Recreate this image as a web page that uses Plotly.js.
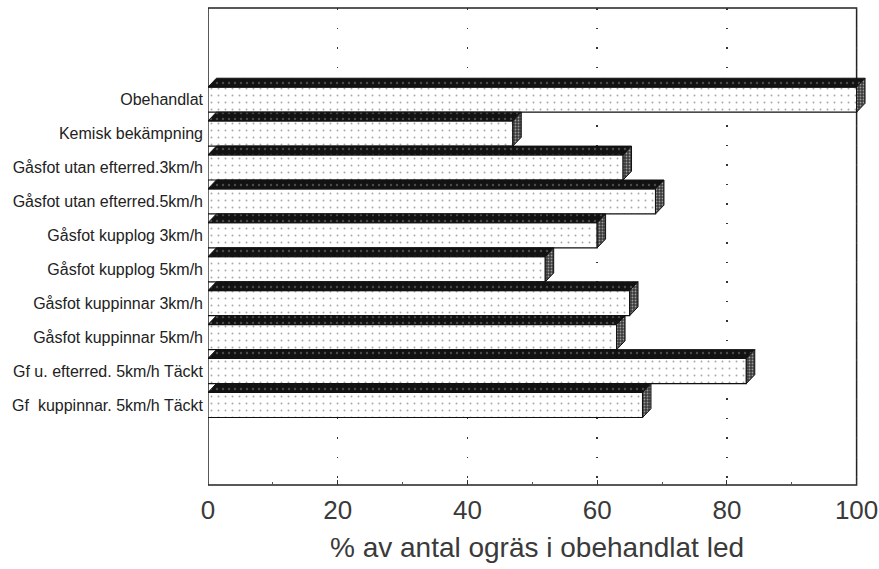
<!DOCTYPE html>
<html>
<head>
<meta charset="utf-8">
<script src="https://cdn.plot.ly/plotly-3.0.1.min.js"></script>
<style>
  html, body { margin: 0; padding: 0; background: #ffffff; }
  #chart { width: 879px; height: 569px; }
</style>
</head>
<body>
<div id="chart"></div>
<script>
// Treatments (top to bottom) and weed counts as % of the untreated plot
const categories = [
  "Obehandlat",
  "Kemisk bekämpning",
  "Gåsfot utan efterred.3km/h",
  "Gåsfot utan efterred.5km/h",
  "Gåsfot kupplog 3km/h",
  "Gåsfot kupplog 5km/h",
  "Gåsfot kuppinnar 3km/h",
  "Gåsfot kuppinnar 5km/h",
  "Gf u. efterred. 5km/h Täckt",
  "Gf  kuppinnar. 5km/h Täckt"
];
const values = [100, 47, 64, 69, 60, 52, 65, 63, 83, 67];

const xTicks = [0, 20, 40, 60, 80, 100];
const xTitle = "% av antal ogräs i obehandlat led";

// 3D bar geometry in axis units
const barWidth = 0.74;   // front face height (category units)
const depthY = 0.26;     // upward shift of the back edge (category units)
const depthX = 1.3;      // rightward shift of the back edge (value units)

const idx = categories.map((_, i) => i);

// Build top and side faces as closed polygons separated by nulls
const topX = [], topY = [], sideX = [], sideY = [];
values.forEach((v, i) => {
  const t = i - barWidth / 2, b = i + barWidth / 2;
  topX.push(0, depthX, v + depthX, v, 0, null);
  topY.push(t, t - depthY, t - depthY, t, t, null);
  sideX.push(v, v + depthX, v + depthX, v, v, null);
  sideY.push(t, t - depthY, b - depthY, b, t, null);
});

const font = "Liberation Sans, Arial, Helvetica, sans-serif";

const traces = [
  {
    type: "scatter", mode: "lines", x: topX, y: topY,
    fill: "toself", fillcolor: "#161616",
    fillpattern: { shape: ".", fgcolor: "#4a4a4a", bgcolor: "#121212", size: 6, solidity: 0.12 },
    line: { color: "#111111", width: 1 },
    hoverinfo: "skip", showlegend: false
  },
  {
    type: "scatter", mode: "lines", x: sideX, y: sideY,
    fill: "toself", fillcolor: "#4a4a4a",
    fillpattern: { shape: ".", fgcolor: "#9a9a9a", bgcolor: "#3a3a3a", size: 3, solidity: 0.3 },
    line: { color: "#111111", width: 1 },
    hoverinfo: "skip", showlegend: false
  },
  {
    type: "bar", orientation: "h", x: values, y: idx, width: barWidth,
    marker: {
      color: "#ffffff",
      line: { color: "#111111", width: 1.2 },
      pattern: { shape: ".", fgcolor: "#a8a8a8", bgcolor: "#ffffff", size: 7, solidity: 0.06 }
    },
    hoverinfo: "x+y", showlegend: false
  }
];

const layout = {
  width: 879, height: 569,
  margin: { l: 208, r: 13, t: 8, b: 84 },
  paper_bgcolor: "#ffffff", plot_bgcolor: "#ffffff",
  showlegend: false,
  bargap: 0,
  xaxis: {
    range: [0, 101.45],
    tickvals: xTicks,
    ticktext: xTicks.map(String),
    showgrid: true, gridcolor: "#333333", gridwidth: 1.5, griddash: "1.5px,18px",
    zeroline: false, showline: false,
    ticks: "inside", ticklen: 5, tickcolor: "#333333",
    minor: { ticks: "inside", ticklen: 3, tickcolor: "#555555", dtick: 10, tick0: 0, showgrid: false },
    tickfont: { family: font, size: 26, color: "#3a3a3a" },
    ticklabelstandoff: 7,
    title: { text: xTitle, font: { family: font, size: 28, color: "#3a3a3a" }, standoff: 13 }
  },
  yaxis: {
    range: [11.36, -2.7],
    tickvals: idx,
    ticktext: categories,
    showgrid: false, zeroline: false, showline: false,
    ticks: "",
    ticklabelstandoff: 4,
    tickfont: { family: font, size: 16, color: "#222222" }
  },
  shapes: [
    {
      type: "rect", xref: "x", yref: "paper",
      x0: 0, x1: 100, y0: 0, y1: 1,
      line: { color: "#222222", width: 1.5 },
      layer: "below"
    }
  ]
};

Plotly.newPlot("chart", traces, layout, { displayModeBar: false, staticPlot: true });
</script>
</body>
</html>
